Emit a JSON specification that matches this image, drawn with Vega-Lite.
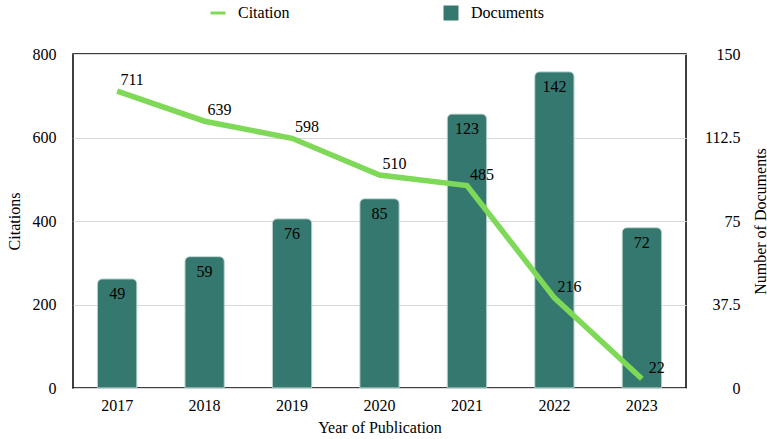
{
  "$schema": "https://vega.github.io/schema/vega-lite/v6.json",
  "width": 613,
  "height": 334,
  "autosize": {"type": "none"},
  "padding": {"left": 73, "top": 54, "right": 81, "bottom": 51},
  "background": "white",
  "config": {
    "font": "Liberation Serif, Times New Roman, serif",
    "view": {"stroke": "black", "strokeWidth": 1.5},
    "text": {"font": "Liberation Serif, Times New Roman, serif", "fontSize": 16},
    "legend": {"labelFont": "Liberation Serif, Times New Roman, serif", "labelFontSize": 16, "labelColor": "black"},
    "axis": {
      "labelFont": "Liberation Serif, Times New Roman, serif",
      "titleFont": "Liberation Serif, Times New Roman, serif",
      "labelFontSize": 16,
      "titleFontSize": 16,
      "labelColor": "black",
      "titleColor": "black",
      "titleFontWeight": "normal",
      "ticks": false,
      "domain": false
    }
  },
  "data": {
    "values": [
      {"year": "2017", "citations": 711, "documents": 49},
      {"year": "2018", "citations": 639, "documents": 59},
      {"year": "2019", "citations": 598, "documents": 76},
      {"year": "2020", "citations": 510, "documents": 85},
      {"year": "2021", "citations": 485, "documents": 123},
      {"year": "2022", "citations": 216, "documents": 142},
      {"year": "2023", "citations": 22, "documents": 72}
    ]
  },
  "encoding": {
    "x": {
      "field": "year",
      "type": "ordinal",
      "scale": {"paddingInner": 0.55, "paddingOuter": 0.28},
      "axis": {"title": "Year of Publication", "labelAngle": 0, "labelPadding": 9, "titlePadding": 6, "grid": false}
    }
  },
  "layer": [
    {
      "encoding": {
        "y": {
          "field": "documents",
          "type": "quantitative",
          "scale": {"domain": [0, 150], "nice": false, "zero": true},
          "axis": {
            "orient": "right",
            "title": "Number of Documents",
            "values": [0, 37.5, 75, 112.5, 150],
            "labelExpr": "'' + datum.value",
            "labelAlign": "right",
            "labelPadding": 54,
            "titlePadding": 28,
            "titleAngle": 270,
            "grid": false
          }
        }
      },
      "layer": [
        {
          "mark": {"type": "bar", "color": "#35786f", "cornerRadiusTopLeft": 5, "cornerRadiusTopRight": 5, "stroke": "#a9c9c4", "strokeWidth": 0.8},
          "encoding": {
            "color": {"datum": "Documents", "type": "nominal"}
          }
        },
        {
          "mark": {"type": "text", "baseline": "middle", "align": "center", "dy": 15, "fontSize": 16, "color": "black"},
          "encoding": {"text": {"field": "documents", "type": "quantitative"}}
        }
      ]
    },
    {
      "encoding": {
        "y": {
          "field": "citations",
          "type": "quantitative",
          "scale": {"domain": [0, 800], "nice": false},
          "axis": {
            "orient": "left",
            "title": "Citations",
            "values": [0, 200, 400, 600, 800],
            "labelPadding": 17,
            "titlePadding": 10,
            "grid": true,
            "gridColor": "#d9d9d9",
            "gridWidth": 1.2
          }
        }
      },
      "layer": [
        {
          "mark": {"type": "line", "strokeWidth": 5.5},
          "encoding": {
            "color": {
              "datum": "Citation",
              "type": "nominal",
              "scale": {"domain": ["Citation", "Documents"], "range": ["#7ed957", "#35786f"]},
              "legend": {
                "title": null,
                "orient": "none",
                "legendX": 137,
                "legendY": -49,
                "direction": "horizontal",
                "columnPadding": 153,
                "labelOffset": 12,
                "symbolSize": 225,
                "labelFont": "Liberation Serif, Times New Roman, serif",
                "labelFontSize": 16,
                "labelColor": "black",
                "encode": {
                  "symbols": {
                    "update": {
                      "shape": {"signal": "datum.value === 'Citation' ? 'stroke' : 'square'"},
                      "fill": {"signal": "datum.value === 'Citation' ? 'transparent' : '#35786f'"},
                      "stroke": {"signal": "datum.value === 'Citation' ? '#7ed957' : '#35786f'"},
                      "strokeWidth": {"signal": "datum.value === 'Citation' ? 3 : 0"},
                      "opacity": {"value": 1}
                    }
                  }
                }
              }
            }
          }
        },
        {
          "mark": {"type": "text", "baseline": "middle", "align": "center", "dx": 15, "dy": -11, "fontSize": 16, "color": "black"},
          "encoding": {"text": {"field": "citations", "type": "quantitative"}}
        }
      ]
    }
  ],
  "resolve": {"scale": {"y": "independent"}}
}
